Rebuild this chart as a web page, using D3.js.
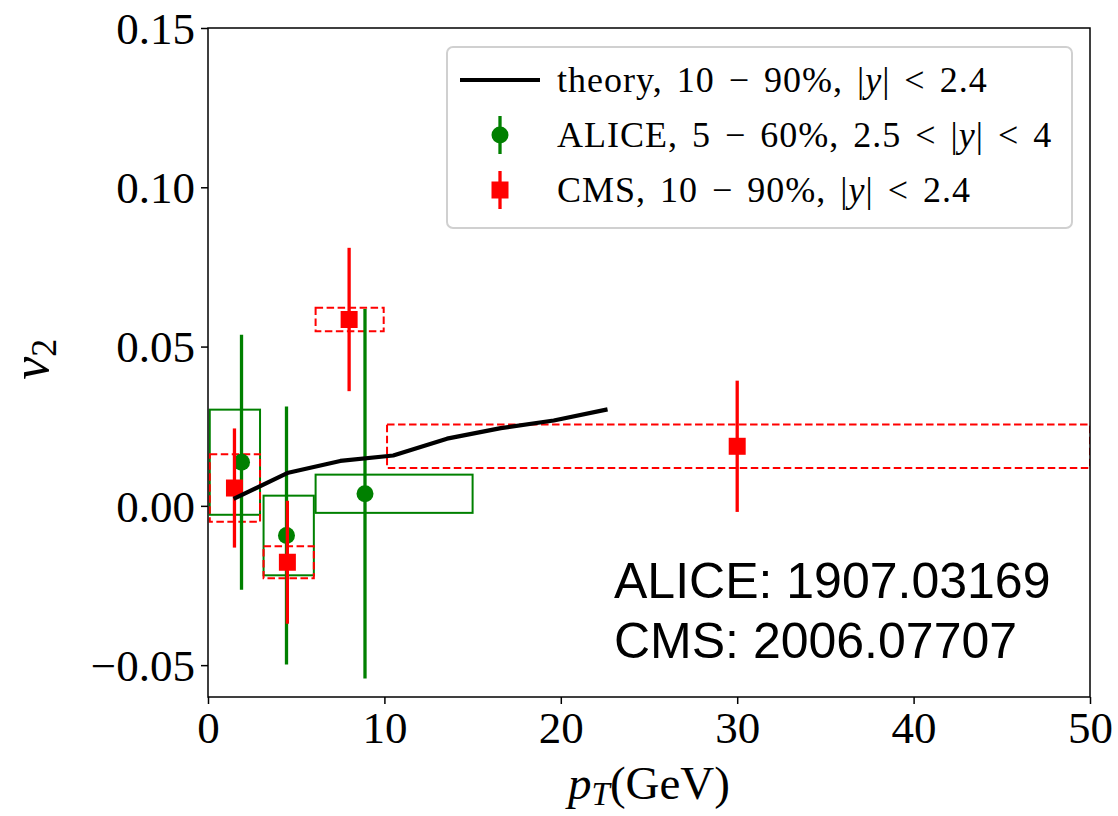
<!DOCTYPE html>
<html>
<head>
<meta charset="utf-8">
<script src="https://cdn.jsdelivr.net/npm/d3@7"></script>
<style>
  body { margin: 0; background: #fff; }
  svg { display: block; }
</style>
</head>
<body>
<div id="chart-area"></div>
<script>

// theory curve
var theoryPt = [1.45, 4.55, 7.5, 10.5, 13.55, 16.6, 19.6, 22.65];
var theoryV2 = [0.0022, 0.0104, 0.0141, 0.0158, 0.0211, 0.0244, 0.0268, 0.0303];

// ALICE points
var alicePt   = [1.9, 4.45, 8.9];
var aliceV2   = [0.0137, -0.0093, 0.0038];
var aliceStat = [0.040, 0.0405, 0.058];
var aliceSys  = [0.0165, 0.0125, 0.006];
var aliceLo   = [0.1, 3.15, 6.1];
var aliceHi   = [2.95, 6.0, 15.0];

// CMS points
var cmsPt   = [1.5, 4.5, 8.0, 30.0];
var cmsV2   = [0.0056, -0.0177, 0.0585, 0.0187];
var cmsStat = [0.0187, 0.0193, 0.0225, 0.0206];
var cmsSys  = [0.0106, 0.005, 0.0037, 0.0068];
var cmsLo   = [0.1, 3.15, 6.1, 10.15];
var cmsHi   = [2.95, 6.0, 9.96, 50];

var xTicks = [0, 10, 20, 30, 40, 50];
var yTicks = [-0.05, 0.00, 0.05, 0.10, 0.15];

var margin = {left:208, right:28, top:28, bottom:119};
var width = 1118 - margin.left - margin.right;
var height = 816 - margin.top - margin.bottom;

var serif = "'Liberation Serif', 'DejaVu Serif', serif";

var svg = d3.select("#chart-area").append("svg")
    .attr("width", 1118)
    .attr("height", 816);

var g = svg.append("g")
    .attr("transform", "translate(" + margin.left + "," + margin.top + ")");

var x = d3.scaleLinear().domain([0, 50]).range([0, width]);
var y = d3.scaleLinear().domain([-0.06, 0.15]).range([height, 0]);

g.append("clipPath").attr("id", "clip")
    .append("rect").attr("x", 0).attr("y", 0).attr("width", width).attr("height", height);

var plot = g.append("g").attr("clip-path", "url(#clip)");

function zip(pt, v, st, sy, lo, hi) {
    return pt.map(function(p, i) {
        return {pt: p, v: v[i], stat: st[i], sys: sy[i], lo: lo[i], hi: hi[i]};
    });
}
var alice = zip(alicePt, aliceV2, aliceStat, aliceSys, aliceLo, aliceHi);
var cms = zip(cmsPt, cmsV2, cmsStat, cmsSys, cmsLo, cmsHi);

// systematic boxes
plot.selectAll(".alice-box").data(alice).enter().append("rect")
    .attr("x", function(d) { return x(d.lo); })
    .attr("width", function(d) { return x(d.hi) - x(d.lo); })
    .attr("y", function(d) { return y(d.v + d.sys); })
    .attr("height", function(d) { return y(d.v - d.sys) - y(d.v + d.sys); })
    .attr("fill", "none")
    .attr("stroke", "green")
    .attr("stroke-width", 2);

plot.selectAll(".cms-box").data(cms).enter().append("rect")
    .attr("x", function(d) { return x(d.lo); })
    .attr("width", function(d) { return x(d.hi) - x(d.lo); })
    .attr("y", function(d) { return y(d.v + d.sys); })
    .attr("height", function(d) { return y(d.v - d.sys) - y(d.v + d.sys); })
    .attr("fill", "none")
    .attr("stroke", "red")
    .attr("stroke-width", 2)
    .attr("stroke-dasharray", "7.5,3.5");

// ALICE error bars and markers
plot.selectAll(".alice-err").data(alice).enter().append("line")
    .attr("x1", function(d) { return x(d.pt); })
    .attr("x2", function(d) { return x(d.pt); })
    .attr("y1", function(d) { return y(d.v - d.stat); })
    .attr("y2", function(d) { return y(d.v + d.stat); })
    .attr("stroke", "green")
    .attr("stroke-width", 3.3);

plot.selectAll(".alice-pt").data(alice).enter().append("circle")
    .attr("cx", function(d) { return x(d.pt); })
    .attr("cy", function(d) { return y(d.v); })
    .attr("r", 8.5)
    .attr("fill", "green");

// CMS error bars and markers
plot.selectAll(".cms-err").data(cms).enter().append("line")
    .attr("x1", function(d) { return x(d.pt); })
    .attr("x2", function(d) { return x(d.pt); })
    .attr("y1", function(d) { return y(d.v - d.stat); })
    .attr("y2", function(d) { return y(d.v + d.stat); })
    .attr("stroke", "red")
    .attr("stroke-width", 3.3);

plot.selectAll(".cms-pt").data(cms).enter().append("rect")
    .attr("x", function(d) { return x(d.pt) - 8.5; })
    .attr("y", function(d) { return y(d.v) - 8.5; })
    .attr("width", 17)
    .attr("height", 17)
    .attr("fill", "red");

// theory line
var line = d3.line()
    .x(function(d) { return x(d[0]); })
    .y(function(d) { return y(d[1]); });

plot.append("path")
    .datum(theoryPt.map(function(p, i) { return [p, theoryV2[i]]; }))
    .attr("d", line)
    .attr("fill", "none")
    .attr("stroke", "black")
    .attr("stroke-width", 4.2)
    .attr("stroke-linejoin", "round");

// axes
var xAxis = g.append("g")
    .attr("transform", "translate(0," + height + ")")
    .call(d3.axisBottom(x).tickValues(xTicks).tickSize(7).tickPadding(4).tickFormat(d3.format("d")));

var yAxis = g.append("g")
    .call(d3.axisLeft(y).tickValues(yTicks).tickSize(7).tickPadding(6)
        .tickFormat(function(d) { return d < 0 ? "\u2212" + d3.format(".2f")(-d) : d3.format(".2f")(d); }));

[xAxis, yAxis].forEach(function(a) {
    a.select(".domain").remove();
    a.selectAll("line").attr("stroke", "#000").attr("stroke-width", 1.5);
    a.selectAll("text")
        .attr("font-family", serif)
        .attr("font-size", 45)
        .attr("fill", "#000");
});
yAxis.selectAll("text").attr("dy", "0.34em");
xAxis.selectAll("text").attr("dy", "0.78em");

// frame
g.append("rect")
    .attr("width", width)
    .attr("height", height)
    .attr("fill", "none")
    .attr("stroke", "#000")
    .attr("stroke-width", 1.5);

// axis labels
var xl = svg.append("text")
    .attr("x", margin.left + width / 2)
    .attr("y", 799)
    .attr("text-anchor", "middle")
    .attr("font-family", serif)
    .attr("font-size", 47);
xl.append("tspan").attr("font-style", "italic").text("p");
xl.append("tspan").attr("font-style", "italic").attr("font-size", 33).attr("dy", 6).text("T");
xl.append("tspan").attr("dy", -6).text("(GeV)");

var yl = svg.append("text")
    .attr("transform", "translate(48," + (y(0.046) + margin.top) + ") rotate(-90)")
    .attr("text-anchor", "middle")
    .attr("font-family", serif)
    .attr("font-size", 52);
yl.append("tspan").attr("font-style", "italic").text("v");
yl.append("tspan").attr("font-size", 36).attr("dy", 8).text("2");

// annotation
var note = ["ALICE: 1907.03169", "CMS: 2006.07707"];
svg.selectAll(".note").data(note).enter().append("text")
    .attr("x", 614)
    .attr("y", function(d, i) { return 598 + i * 60; })
    .attr("font-family", "'Liberation Sans', Arial, sans-serif")
    .attr("font-size", 50)
    .attr("fill", "#000")
    .text(function(d) { return d; });

// LEGEND
var legend = svg.append("g");
legend.append("rect")
    .attr("x", 447).attr("y", 47)
    .attr("width", 625).attr("height", 181)
    .attr("rx", 6)
    .attr("fill", "#fff").attr("fill-opacity", 0.8)
    .attr("stroke", "#d0d0d0").attr("stroke-width", 2);

var rows = [
    {type: "line", parts: [["theory, 10 \u2212 90%, |", false], ["y", true], ["| < 2.4", false]]},
    {type: "alice", parts: [["ALICE, 5 \u2212 60%, 2.5 < |", false], ["y", true], ["| < 4", false]]},
    {type: "cms", parts: [["CMS, 10 \u2212 90%, |", false], ["y", true], ["| < 2.4", false]]}
];

rows.forEach(function(row, i) {
    var cy = 80 + i * 55;
    var r = legend.append("g");
    if (row.type === "line") {
        r.append("line").attr("x1", 460).attr("x2", 540).attr("y1", cy).attr("y2", cy)
            .attr("stroke", "black").attr("stroke-width", 4.2);
    } else {
        var col = row.type === "alice" ? "green" : "red";
        r.append("line").attr("x1", 500).attr("x2", 500).attr("y1", cy - 19).attr("y2", cy + 19)
            .attr("stroke", col).attr("stroke-width", 3.3);
        if (row.type === "alice") {
            r.append("circle").attr("cx", 500).attr("cy", cy).attr("r", 8.5).attr("fill", col);
        } else {
            r.append("rect").attr("x", 491.5).attr("y", cy - 8.5).attr("width", 17).attr("height", 17).attr("fill", col);
        }
    }
    var t = r.append("text")
        .attr("x", 557)
        .attr("y", cy + 12)
        .attr("font-family", serif)
        .attr("font-size", 36)
        .attr("word-spacing", 4)
        .attr("letter-spacing", 1)
        .attr("fill", "#000");
    row.parts.forEach(function(p) {
        t.append("tspan").attr("font-style", p[1] ? "italic" : null).text(p[0]);
    });
});

</script>
</body>
</html>
